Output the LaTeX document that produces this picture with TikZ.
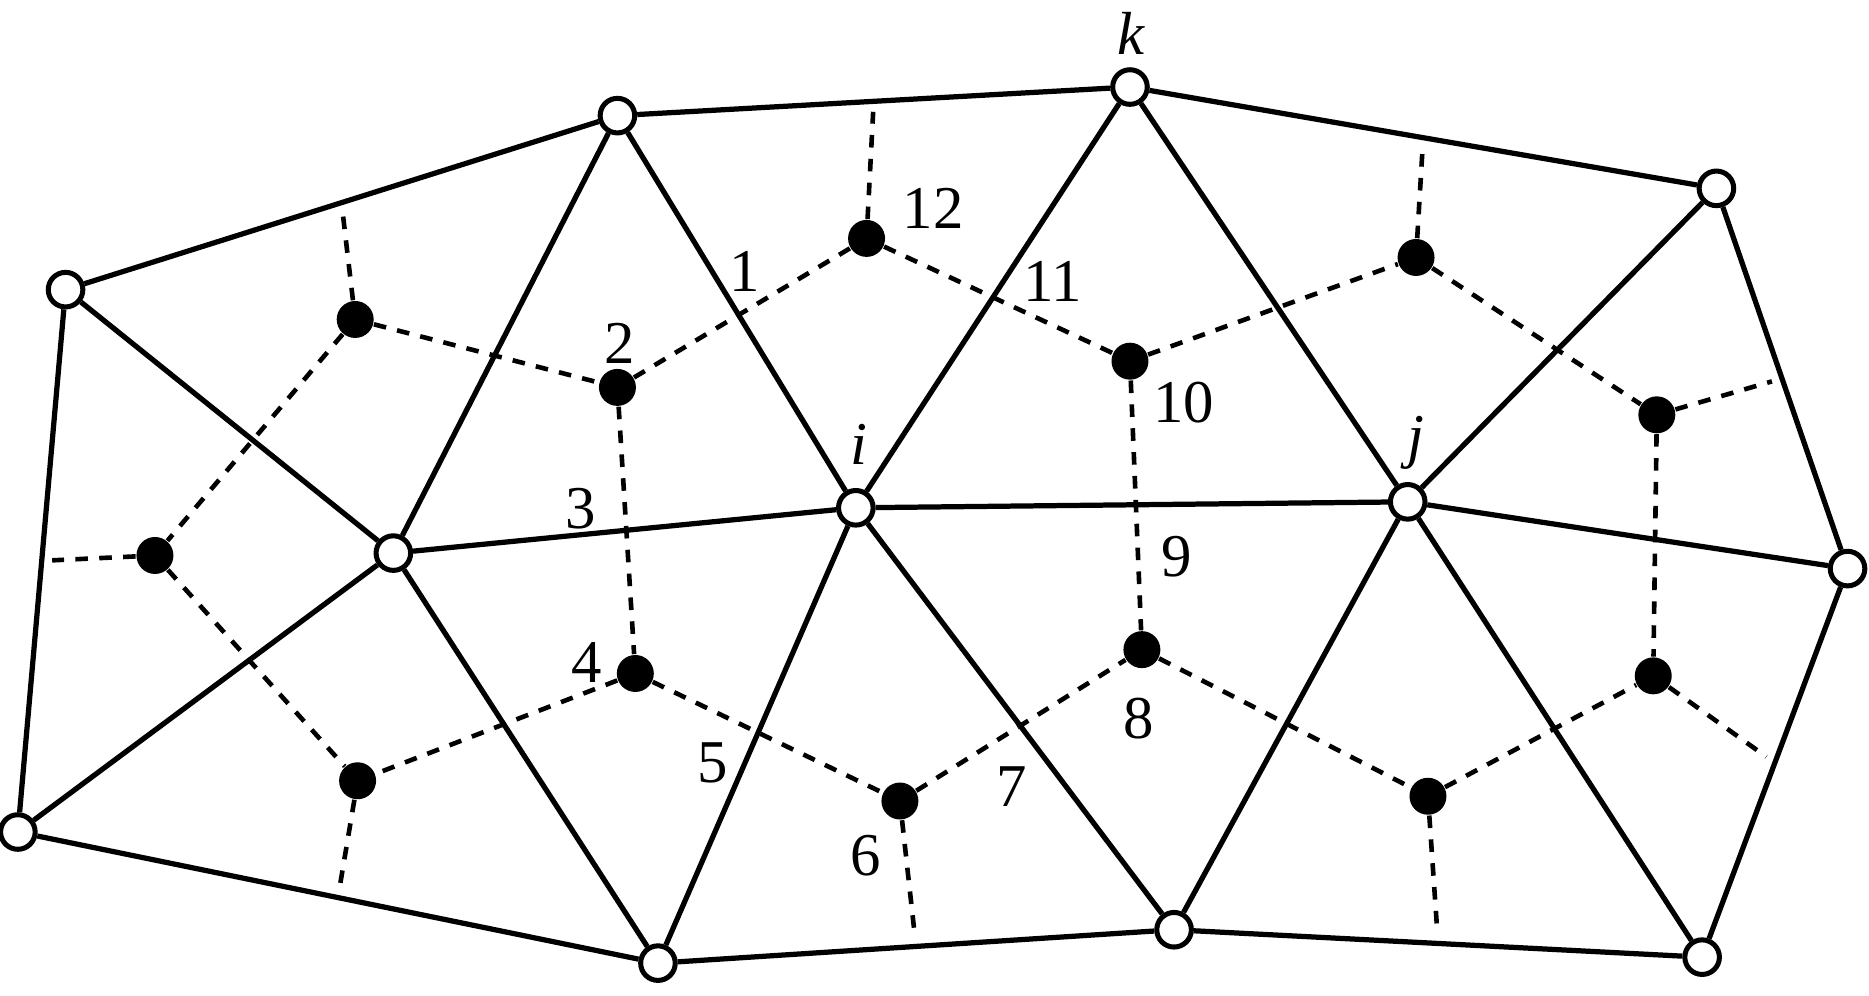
\documentclass[tikz,border=0pt]{standalone}
\usepackage{fontspec}
\setmainfont{Liberation Serif}
\usetikzlibrary{calc}
\begin{document}
\begin{tikzpicture}[x=0.01cm,y=-0.01cm,
 vtx/.style={circle,draw,fill=white,line width=1.2pt,minimum size=0.29cm,inner sep=0pt},
 bdot/.style={circle,fill=black,minimum size=0.31cm,inner sep=0pt},
 edge/.style={line width=1.25pt},
 dual/.style={line width=1.1pt,dash pattern=on 3pt off 2.7pt},
 stub/.style={dual,shorten >=2.5pt},
 lab/.style={font=\fontsize{14.5}{16}\selectfont,inner sep=0pt},
 ilab/.style={font=\fontsize{14.5}{16}\selectfont\itshape,inner sep=0pt,anchor=base}]
\useasboundingbox (0,0) rectangle (1568,835);
% mesh vertices
\node[vtx] (A) at (55,243) {};
\node[vtx] (B) at (518,97) {};
\node[vtx] (K) at (948,73) {};
\node[vtx] (C) at (1440,158) {};
\node[vtx] (D) at (330,464) {};
\node[vtx] (I) at (718,426) {};
\node[vtx] (J) at (1181,421) {};
\node[vtx] (E) at (1550,477) {};
\node[vtx] (F) at (15,698) {};
\node[vtx] (G) at (552,808) {};
\node[vtx] (H) at (985,780) {};
\node[vtx] (L) at (1428,803) {};
% dual vertices
\node[bdot] (d1) at (298,268) {};
\node[bdot] (d2) at (518,325) {};
\node[bdot] (d3) at (727,200) {};
\node[bdot] (d4) at (948,303) {};
\node[bdot] (d5) at (1188,216) {};
\node[bdot] (d6) at (1390,348) {};
\node[bdot] (d7) at (130,466) {};
\node[bdot] (d8) at (533,565) {};
\node[bdot] (d9) at (300,655) {};
\node[bdot] (d10) at (755,672) {};
\node[bdot] (d11) at (958,545) {};
\node[bdot] (d12) at (1198,668) {};
\node[bdot] (d13) at (1387,567) {};
% boundary edge midpoints
\coordinate (mAB) at ($(A)!0.5!(B)$);
\coordinate (mBK) at ($(B)!0.5!(K)$);
\coordinate (mKC) at ($(K)!0.5!(C)$);
\coordinate (mCE) at ($(C)!0.5!(E)$);
\coordinate (mEL) at ($(E)!0.5!(L)$);
\coordinate (mHL) at ($(H)!0.5!(L)$);
\coordinate (mGH) at ($(G)!0.5!(H)$);
\coordinate (mFG) at ($(F)!0.5!(G)$);
\coordinate (mFA) at ($(F)!0.5!(A)$);
% solid mesh edges
\draw[edge] (A) -- (B) (B) -- (K) (K) -- (C) (C) -- (E) (E) -- (L)
 (L) -- (H) (H) -- (G) (G) -- (F) (F) -- (A);
\draw[edge] (A) -- (D) (B) -- (D) (B) -- (I) (K) -- (I) (K) -- (J)
 (C) -- (J) (D) -- (I) (I) -- (J) (J) -- (E) (D) -- (F) (D) -- (G)
 (I) -- (G) (I) -- (H) (J) -- (H) (J) -- (L);
% dashed dual edges
\draw[dual] (d1) -- (d2) (d1) -- (d7) (d2) -- (d3) (d2) -- (d8)
 (d3) -- (d4) (d4) -- (d5) (d4) -- (d11) (d5) -- (d6) (d6) -- (d13)
 (d7) -- (d9) (d8) -- (d9) (d8) -- (d10) (d10) -- (d11) (d11) -- (d12)
 (d12) -- (d13);
\draw[stub] (d1) -- (mAB);
\draw[stub] (d3) -- (mBK);
\draw[stub] (d5) -- (mKC);
\draw[stub] (d6) -- (mCE);
\draw[stub] (d13) -- (mEL);
\draw[stub] (d12) -- (mHL);
\draw[stub] (d10) -- (mGH);
\draw[stub] (d9) -- (mFG);
\draw[stub] (d7) -- (mFA);
% labels
\node[lab] (l1) at (625,228) {1};
\node[lab] (l2) at (520,288) {2};
\node[lab] (l3) at (487,427) {3};
\node[lab] (l4) at (492,556) {4};
\node[lab] (l5) at (598,640) {5};
\node[lab] (l6) at (726,718) {6};
\node[lab] (l7) at (849,660) {7};
\node[lab] (l8) at (955,603) {8};
\node[lab] (l9) at (987,467) {9};
\node[lab] (l10) at (993,338) {10};
\node[lab] (l11) at (883,236) {11};
\node[lab] (l12) at (783,175) {12};
\node[ilab] (lk) at (949,46) {k};
\node[ilab] (li) at (721,390) {i};
\node[ilab] (lj) at (1188,383) {j};
\end{tikzpicture}
\end{document}
